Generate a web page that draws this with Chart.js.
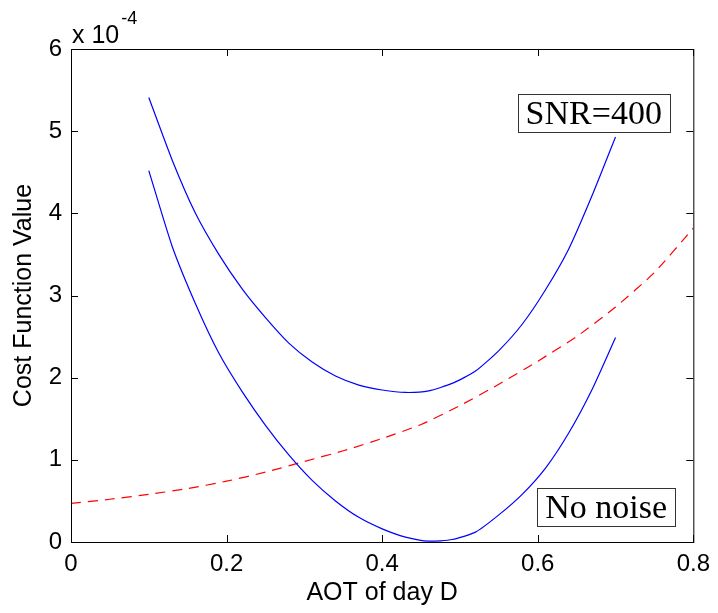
<!DOCTYPE html>
<html>
<head>
<meta charset="utf-8">
<script src="https://cdn.jsdelivr.net/npm/chart.js@4/dist/chart.umd.min.js"></script>
<style>
  html, body { margin: 0; padding: 0; background: #fff; }
  #wrap { width: 718px; height: 613px; }
</style>
</head>
<body>
<div id="wrap"><canvas id="costChart" width="718" height="613"></canvas></div>
<script>
// values are in units of 1e-4
const aotBlue = [0.10, 0.13, 0.16, 0.19, 0.22, 0.25, 0.28, 0.31, 0.34, 0.37, 0.40,
                 0.43, 0.46, 0.49, 0.52, 0.55, 0.58, 0.61, 0.64, 0.67, 0.70];
const costSnr400 = [5.41, 4.65, 4.00, 3.50, 3.08, 2.73, 2.42, 2.19, 2.02, 1.91, 1.85,
                    1.82, 1.84, 1.93, 2.08, 2.33, 2.65, 3.07, 3.57, 4.22, 4.93];
const costNoNoise = [4.52, 3.60, 2.90, 2.30, 1.83, 1.42, 1.06, 0.75, 0.50, 0.30, 0.16,
                     0.06, 0.01, 0.03, 0.12, 0.33, 0.58, 0.90, 1.33, 1.86, 2.49];
const aotRed = [0.00, 0.05, 0.10, 0.15, 0.20, 0.25, 0.30, 0.35, 0.40,
                0.45, 0.50, 0.55, 0.60, 0.65, 0.70, 0.75, 0.80];
const costRed = [0.47, 0.52, 0.58, 0.65, 0.74, 0.85, 0.98, 1.11, 1.26,
                 1.43, 1.66, 1.92, 2.20, 2.50, 2.86, 3.28, 3.82];
const xTicks = [0, 0.2, 0.4, 0.6, 0.8];
const yTicks = [0, 1, 2, 3, 4, 5, 6];

// text boxes: label, centre in data coords
const boxes = [
    { text: 'SNR=400', x: 0.672, y: 5.22 },
    { text: 'No noise', x: 0.688, y: 0.426 }
];

const pairs = (xs, ys) => xs.map((x, i) => ({ x: x, y: ys[i] }));

const sansFont = "'Liberation Sans', Arial, Helvetica, sans-serif";
const serifFont = "'Liberation Serif', 'Times New Roman', serif";

// frame, inward ticks, exponent and text boxes
const matlabAxes = {
    id: 'matlabAxes',
    afterDatasetsDraw(chart) {
        const ctx = chart.ctx;
        const a = chart.chartArea;
        const xs = chart.scales.x;
        const ys = chart.scales.y;
        const tl = 7;
        ctx.save();
        ctx.strokeStyle = '#000';
        ctx.lineWidth = 1;
        ctx.strokeRect(a.left + 0.5, a.top + 0.5, a.right - a.left, a.bottom - a.top);
        ctx.beginPath();
        xTicks.forEach(v => {
            const px = Math.round(xs.getPixelForValue(v)) + 0.5;
            ctx.moveTo(px, a.bottom); ctx.lineTo(px, a.bottom - tl);
            ctx.moveTo(px, a.top); ctx.lineTo(px, a.top + tl);
        });
        yTicks.forEach(v => {
            const py = Math.round(ys.getPixelForValue(v)) + 0.5;
            ctx.moveTo(a.left, py); ctx.lineTo(a.left + tl, py);
            ctx.moveTo(a.right, py); ctx.lineTo(a.right - tl, py);
        });
        ctx.stroke();

        // x 10^-4
        ctx.fillStyle = '#000';
        ctx.textBaseline = 'alphabetic';
        ctx.textAlign = 'left';
        ctx.font = '25px ' + sansFont;
        ctx.fillText('x 10', a.left + 1, a.top - 6);
        const w = ctx.measureText('x 10').width;
        ctx.font = '18px ' + sansFont;
        ctx.fillText('-4', a.left + 3 + w, a.top - 25);

        // text boxes
        ctx.font = '34px ' + serifFont;
        ctx.textAlign = 'center';
        ctx.textBaseline = 'middle';
        boxes.forEach(b => {
            const cx = xs.getPixelForValue(b.x);
            const cy = ys.getPixelForValue(b.y);
            const tw = ctx.measureText(b.text).width;
            const bw = tw + 16, bh = 38;
            ctx.fillStyle = '#fff';
            ctx.fillRect(cx - bw / 2, cy - bh / 2, bw, bh);
            ctx.strokeStyle = '#333';
            ctx.strokeRect(Math.round(cx - bw / 2) + 0.5, Math.round(cy - bh / 2) + 0.5, Math.round(bw), bh);
            ctx.fillStyle = '#000';
            ctx.fillText(b.text, cx, cy + 2);
        });
        ctx.restore();
    }
};

new Chart(document.getElementById('costChart'), {
    type: 'line',
    data: {
        datasets: [
            {
                label: 'SNR=400',
                data: pairs(aotBlue, costSnr400),
                borderColor: '#0000ff',
                borderWidth: 1.2,
                pointRadius: 0,
                tension: 0.2
            },
            {
                label: 'No noise',
                data: pairs(aotBlue, costNoNoise),
                borderColor: '#0000ff',
                borderWidth: 1.2,
                pointRadius: 0,
                tension: 0.2
            },
            {
                label: 'Reference',
                data: pairs(aotRed, costRed),
                borderColor: '#ff0000',
                borderWidth: 1.2,
                borderDash: [10, 7],
                pointRadius: 0,
                tension: 0.2
            }
        ]
    },
    options: {
        responsive: false,
        animation: false,
        layout: { padding: { left: 0, top: 49, right: 23, bottom: 0 } },
        plugins: {
            legend: { display: false },
            tooltip: { enabled: false }
        },
        scales: {
            x: {
                type: 'linear',
                min: 0,
                max: 0.8,
                grid: { display: false, drawTicks: false },
                border: { display: false },
                ticks: {
                    stepSize: 0.2,
                    padding: 8,
                    color: '#000',
                    font: { family: sansFont, size: 24 }
                },
                title: {
                    display: true,
                    text: 'AOT of day D',
                    color: '#000',
                    font: { family: sansFont, size: 25 },
                    padding: { top: 0, bottom: 5 }
                },
                afterFit(scale) { scale.height = 71; }
            },
            y: {
                min: 0,
                max: 6,
                grid: { display: false, drawTicks: false },
                border: { display: false },
                ticks: {
                    stepSize: 1,
                    padding: 9,
                    color: '#000',
                    font: { family: sansFont, size: 24 }
                },
                title: {
                    display: true,
                    text: 'Cost Function Value',
                    color: '#000',
                    font: { family: sansFont, size: 25 },
                    padding: { top: 9, bottom: 0 }
                },
                afterFit(scale) { scale.width = 71; }
            }
        }
    },
    plugins: [matlabAxes]
});
</script>
</body>
</html>
